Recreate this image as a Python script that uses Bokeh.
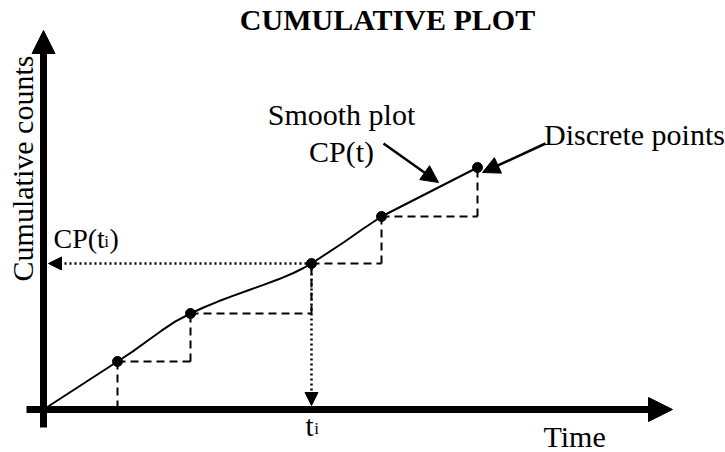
import math
from bokeh.plotting import figure
from bokeh.models import Range1d, Arrow, NormalHead
from bokeh.core.properties import value
from bokeh.embed import file_html
from bokeh.resources import INLINE

# Discrete points (time, cumulative counts)
pt_time = [74, 147, 268, 338, 434]
pt_counts = [48, 96, 146, 193, 242]

# Smooth plot CP(t)
curve_time = [0, 37, 74, 89, 103, 118, 132, 147, 160, 175, 190, 205, 220, 235, 250, 260, 268,
              300, 320, 338, 387, 434]
curve_counts = [0, 24, 48, 57.9, 68.0, 78.8, 88.2, 96, 102, 108.2, 113.9, 119.3, 124.6, 130.2,
                136.5, 141.5, 146, 167, 181, 193, 218, 242]

ti_index = 2  # the highlighted point t_i

FONT = value("Liberation Serif")
p = figure(width=725, height=452, output_backend="svg", toolbar_location=None,
           x_range=Range1d(-43, 682), y_range=Range1d(-43, 409),
           x_axis_type=None, y_axis_type=None, min_border=0,
           min_border_left=0, min_border_right=0, min_border_top=0, min_border_bottom=0)
p.outline_line_color = None
p.grid.visible = False
p.background_fill_color = "white"
p.border_fill_color = "white"

# ---- axes drawn as thick arrows
AX_W = 7
y_top, x_right = 379, 629
y_head, x_head = 23, 24
p.segment(x0=[0], y0=[-18], x1=[0], y1=[y_top - y_head + 1], line_width=AX_W, line_color="black")
p.segment(x0=[-17], y0=[0], x1=[x_right - x_head + 1], y1=[0], line_width=AX_W, line_color="black")
p.add_layout(Arrow(end=NormalHead(size=y_head, fill_color="black", line_color="black", line_width=1),
                   x_start=0, y_start=y_top - 5, x_end=0, y_end=y_top, line_alpha=0))
p.add_layout(Arrow(end=NormalHead(size=x_head, fill_color="black", line_color="black", line_width=1),
                   x_start=x_right - 5, y_start=0, x_end=x_right, y_end=0, line_alpha=0))

# ---- dashed steps between discrete points
sx0, sy0, sx1, sy1 = [pt_time[0]], [pt_counts[0]], [pt_time[0]], [3]
for i in range(len(pt_time) - 1):
    xn = pt_time[i + 1]
    sx0 += [pt_time[i], xn]
    sy0 += [pt_counts[i], pt_counts[i]]
    sx1 += [xn, xn]
    sy1 += [pt_counts[i], pt_counts[i + 1]]
p.segment(x0=sx0, y0=sy0, x1=sx1, y1=sy1, line_width=2, line_color="black", line_dash="8 5")

# ---- dotted projections of t_i
tx, ty = pt_time[ti_index], pt_counts[ti_index]
p.add_layout(Arrow(end=NormalHead(size=13, fill_color="black", line_color="black", line_width=1),
                   x_start=tx, y_start=ty, x_end=5, y_end=ty,
                   line_width=2.5, line_dash="2 3", line_color="black"))
p.add_layout(Arrow(end=NormalHead(size=13, fill_color="black", line_color="black", line_width=1),
                   x_start=tx, y_start=ty, x_end=tx, y_end=4,
                   line_width=2.5, line_dash="2 3", line_color="black"))

# ---- smooth curve and points
p.line(curve_time, curve_counts, line_width=2, line_color="black", line_join="round")
p.scatter(pt_time, pt_counts, size=10, color="black")

# ---- annotation arrows
p.add_layout(Arrow(end=NormalHead(size=17, fill_color="black", line_color="black", line_width=1),
                   x_start=340, y_start=266, x_end=395, y_end=227, line_width=2.5, line_color="black"))
p.add_layout(Arrow(end=NormalHead(size=17, fill_color="black", line_color="black", line_width=1),
                   x_start=502, y_start=266, x_end=439, y_end=237, line_width=2.5, line_color="black"))

# ---- texts
p.text(x=[344], y=[390], text=["CUMULATIVE PLOT"], text_font=FONT, text_font_size="30px",
       text_font_style="bold", text_align="center", text_baseline="alphabetic")
p.text(x=[298, 298], y=[295, 258], text=["Smooth plot", "CP(t)"], text_font=FONT,
       text_font_size="30px", text_align="center", text_baseline="alphabetic")
p.text(x=[591], y=[275], text=["Discrete points"], text_font=FONT,
       text_font_size="30px", text_align="center", text_baseline="alphabetic")
p.text(x=[500], y=[-27], text=["Time"], text_font=FONT,
       text_font_size="30px", text_align="left", text_baseline="alphabetic")
p.text(x=[-21], y=[241], text=["Cumulative counts"], text_font=FONT, angle=math.pi / 2,
       text_font_size="30px", text_align="center", text_baseline="alphabetic")
# CP(t_i)
p.text(x=[10], y=[171], text=["CP(t"], text_font=FONT, text_font_size="28px",
       text_align="left", text_baseline="alphabetic")
p.text(x=[63], y=[168], text=["i"], text_font=FONT, text_font_size="17px",
       text_align="center", text_baseline="alphabetic")
p.text(x=[66], y=[171], text=[")"], text_font=FONT, text_font_size="28px",
       text_align="left", text_baseline="alphabetic")
# t_i
p.text(x=[tx - 2], y=[-16], text=["t"], text_font=FONT, text_font_size="29px",
       text_align="center", text_baseline="alphabetic")
p.text(x=[tx + 5], y=[-19], text=["i"], text_font=FONT, text_font_size="17px",
       text_align="center", text_baseline="alphabetic")

open("out.html", "w").write(file_html(p, INLINE))
